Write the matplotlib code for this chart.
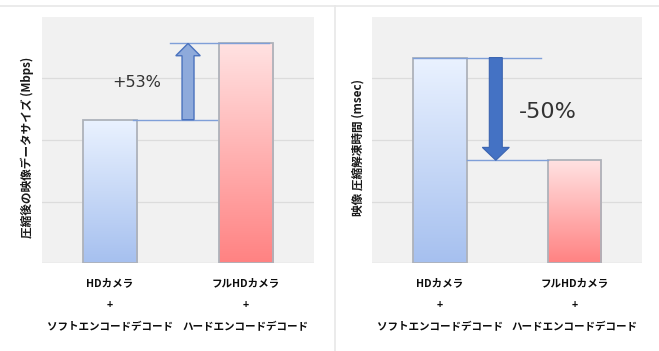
import matplotlib.pyplot as plt
import numpy as np
from matplotlib.colors import to_rgb
from matplotlib.patches import FancyArrow, Rectangle
from matplotlib.lines import Line2D

plt.rcParams['font.family'] = ['Noto Sans CJK JP', 'DejaVu Sans']

# data
categories = ['HDカメラ\n+\nソフトエンコードデコード', 'フルHDカメラ\n+\nハードエンコードデコード']
data_size = [2.33, 3.57]      # 圧縮後の映像データサイズ
decode_time = [3.34, 1.67]    # 映像 圧縮解凍時間
size_label = '+53%'
time_label = '-50%'

blue = ('#a6c0ef', '#eaf2ff')   # bottom, top
red = ('#ff8282', '#ffe2e2')


def gradient_bar(ax, x, value, colors, width=0.4):
    bottom, top = np.array(to_rgb(colors[0])), np.array(to_rgb(colors[1]))
    t = np.linspace(0, 1, 200)[:, None]
    img = (bottom + (top - bottom) * t)[:, None, :]
    ax.imshow(img, extent=[x - width / 2, x + width / 2, 0, value],
              origin='lower', aspect='auto', zorder=2, interpolation='bilinear')
    ax.add_patch(Rectangle((x - width / 2, 0), width, value, fill=False,
                           edgecolor='#aeb2ba', lw=1.3, zorder=3))


def setup(ax, ylabel, label_x):
    ax.set_facecolor('#f1f1f1')
    ax.set_xlim(-0.5, 1.5)
    ax.set_ylim(0, 4)
    ax.set_yticks([1, 2, 3])
    ax.yaxis.grid(True, color='#dcdcdc', lw=0.9)
    ax.set_axisbelow(True)
    ax.tick_params(left=False, labelleft=False, bottom=False, labelbottom=False)
    for s in ax.spines.values():
        s.set_visible(False)
    ax.axhline(0, color='#d9d9d9', lw=1, zorder=1)
    ax.text(label_x, 0.47, ylabel, transform=ax.transAxes, rotation=90,
            ha='center', va='center', fontsize=8.4, fontweight='bold', color='#1a1a1a')
    for i, cat in enumerate(categories):
        for line, yy in zip(cat.split('\n'), [-0.081, -0.171, -0.262]):
            ax.text(i, yy, line, transform=ax.get_xaxis_transform(), ha='center',
                    va='center', fontsize=7.6, fontweight='bold', color='#0d0d0d')


fig = plt.figure(figsize=(6.59, 3.51), dpi=100)
fig.patch.set_facecolor('white')

ax1 = fig.add_axes([0.0637, 0.2507, 0.4127, 0.7009])
ax2 = fig.add_axes([0.5645, 0.2507, 0.4097, 0.7009])

# left: data size
setup(ax1, '圧縮後の映像データサイズ (Mbps)', -0.055)
gradient_bar(ax1, 0, data_size[0], blue)
gradient_bar(ax1, 1, data_size[1], red)
ax1.plot([0.17, 0.79], [data_size[0]] * 2, color='#7f9fd8', lw=1, zorder=4)
ax1.plot([0.44, 1.17], [data_size[1]] * 2, color='#7f9fd8', lw=1, zorder=4)
ax1.add_patch(FancyArrow(0.574, data_size[0], 0, data_size[1] - data_size[0],
                         width=0.088, head_width=0.18, head_length=0.2,
                         length_includes_head=True, facecolor='#8eaadb',
                         edgecolor='#4a72be', lw=1, zorder=5))
ax1.text(0.2, 2.94, size_label, ha='center', va='center', fontsize=11.5,
         color='#333333', family=['DejaVu Sans'])

# right: decode time
setup(ax2, '映像 圧縮解凍時間 (msec)', -0.052)
gradient_bar(ax2, 0, decode_time[0], blue)
gradient_bar(ax2, 1, decode_time[1], red)
ax2.plot([-0.2, 0.75], [decode_time[0]] * 2, color='#7f9fd8', lw=1, zorder=4)
ax2.plot([0.2, 0.8], [decode_time[1]] * 2, color='#7f9fd8', lw=1, zorder=4)
ax2.add_patch(FancyArrow(0.417, decode_time[0], 0, decode_time[1] - decode_time[0],
                         width=0.096, head_width=0.2, head_length=0.21,
                         length_includes_head=True, facecolor='#4472c4',
                         edgecolor='#3b64b0', lw=0.8, zorder=5))
ax2.text(0.8, 2.46, time_label, ha='center', va='center', fontsize=16,
         color='#333333', family=['DejaVu Sans'])

# frame lines
fig.add_artist(Line2D([0, 1], [1 - 6 / 351] * 2, color='#e8e8e8', lw=1.2,
                      transform=fig.transFigure))
fig.add_artist(Line2D([335 / 659] * 2, [0, 1 - 6 / 351], color='#e8e8e8', lw=1.2,
                      transform=fig.transFigure))

fig.savefig('out.png', dpi=100)
